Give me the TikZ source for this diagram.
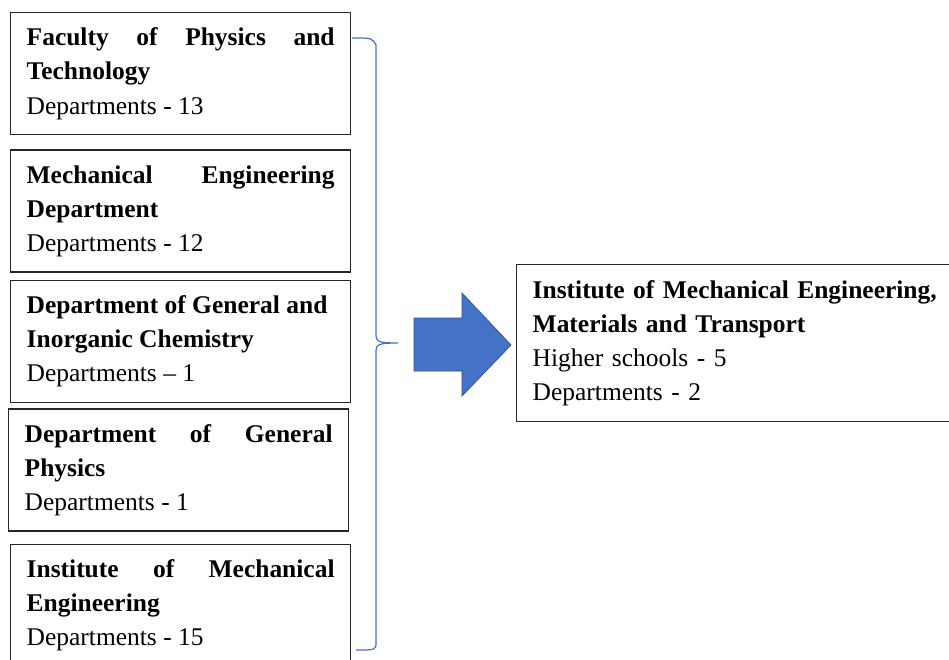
\documentclass[tikz,border=0pt]{standalone}
\usepackage{fontspec}
\setmainfont{Liberation Serif}
\usepackage{xcolor}
\usepackage{tikz}
\usetikzlibrary{positioning}
\definecolor{braceBlue}{HTML}{4472C4}
\definecolor{arrowBorder}{HTML}{2F528F}
\tikzset{box-line/.style={line width=0.8pt, draw=black!85}}
\tikzset{dept-box/.style={box-line, inner xsep=0.32cm, inner ysep=0pt, text width=6.16cm,
        minimum height=2.44cm, align=justify, font=\fontsize{14.5}{19.4}\selectfont}}
\tikzset{inst-box/.style={dept-box, text width=8.6cm, minimum height=3.14cm, align=left}}
\tikzset{brace-line/.style={line width=0.7pt, draw=braceBlue}}
\tikzset{block-arrow/.style={fill=braceBlue, draw=arrowBorder, line width=0.4pt}}

\begin{document}
\begin{tikzpicture}[x=0.02cm, y=-0.02cm]
    \fill[white] (0,0) rectangle (949,659);
    \clip (0,0) rectangle (949,659);

    \node[dept-box, anchor=north west] (fac1) at (10,12)
        {{\bfseries Faculty\hfill of\hfill Physics\hfill and\\ Technology}\\ Departments - 13};
    \node[dept-box, below=0.28cm of fac1] (fac2)
        {{\bfseries Mechanical\hfill Engineering\\ Department}\\ Departments - 12};
    \node[dept-box, below=0.14cm of fac2] (fac3)
        {{\bfseries Department of General and\\ Inorganic Chemistry}\\ Departments -- 1};
    \node[dept-box, below=0.1cm of fac3, xshift=-0.04cm] (fac4)
        {{\bfseries Department\hfill of\hfill General\\ Physics}\\ Departments - 1};
    \node[dept-box, below=0.24cm of fac4, xshift=0.04cm] (fac5)
        {{\bfseries Institute\hfill of\hfill Mechanical\\ Engineering}\\ Departments - 15};

    \node[inst-box, anchor=north west] (imemt) at (516,264)
        {{\bfseries Institute of Mechanical Engineering,\\ Materials and Transport}\\
         Higher schools - 5\\ Departments - 2};

    % brace
    \draw[brace-line] (352,38) .. controls (372,38) .. (376,45) -- (376,336)
        .. controls (376,342) and (381,343) .. (398,343)
        .. controls (381,343) and (376,344) .. (376,350) -- (376,642)
        .. controls (376,650) .. (356,650);

    \fill[block-arrow] (414,318) -- (462,318) -- (462,293) -- (511,345)
        -- (462,396) -- (462,371) -- (414,371) -- cycle;
\end{tikzpicture}
\end{document}
